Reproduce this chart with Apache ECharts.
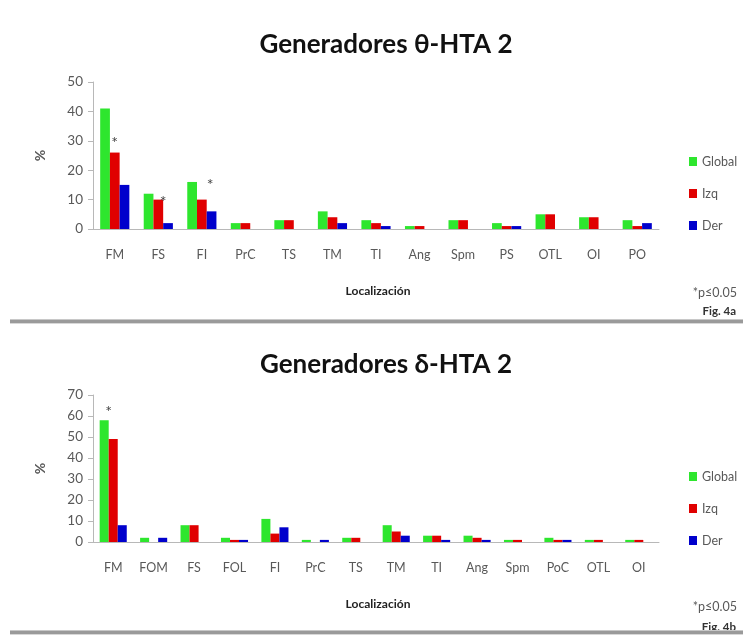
<!DOCTYPE html>
<html>
<head>
<meta charset="utf-8">
<script src="https://cdn.jsdelivr.net/npm/echarts@6/dist/echarts.min.js"></script>
<style>
html,body{margin:0;padding:0;background:#fff;}
#c{width:743px;height:636px;}
</style>
</head>
<body>
<div id="c"></div>
<script>
// ---- data: chart 4a (theta) ----
var catsTheta = ['FM','FS','FI','PrC','TS','TM','TI','Ang','Spm','PS','OTL','OI','PO'];
var globalTheta = [41,12,16,2,3,6,3,1,3,2,5,4,3];
var izqTheta    = [26,10,10,2,3,4,2,1,3,1,5,4,1];
var derTheta    = [15, 2, 6,0,0,2,1,0,0,1,0,0,2];
var sigTheta = [['FM','Izq'],['FS','Izq'],['FI','Der']];

// ---- data: chart 4b (delta) ----
var catsDelta = ['FM','FOM','FS','FOL','FI','PrC','TS','TM','TI','Ang','Spm','PoC','OTL','OI'];
var globalDelta = [58,2,8,2,11,1,2,8,3,3,1,2,1,1];
var izqDelta    = [49,0,8,1, 4,0,2,5,3,2,1,1,1,1];
var derDelta    = [ 8,2,0,1, 7,1,0,3,1,1,0,1,0,0];
var sigDelta = [['FM','Global']];

var yTicksTheta = [0,10,20,30,40,50];
var yTicksDelta = [0,10,20,30,40,50,60,70];

var seriesNames = ['Global','Izq','Der'];
var colors = {Global:'#2ee62e', Izq:'#e00000', Der:'#0000cc'};
var FONT = 'Lato';
var GRAY = '#595959';

// asterisk label placement relative to its bar (style only)
var starPos = {
  'theta|FM': ['50%',-10], 'theta|FS': ['100%',2], 'theta|FI': ['35%',-27],
  'delta|FM': ['100%',-8]
};

function buildData(key, cats, vals, name, sig){
  return vals.map(function(v,i){
    var isSig = sig.some(function(s){return s[0]===cats[i] && s[1]===name;});
    if(!isSig) return v;
    return {value:v, label:{show:true, position:starPos[key+'|'+cats[i]]||'top', formatter:'*',
      align:'center', verticalAlign:'middle', color:'#444', fontSize:16, fontFamily:FONT}};
  });
}

function mkSeries(key, cats, arrs, sig, idx){
  return seriesNames.map(function(n,k){
    return {
      name:n, type:'bar', xAxisIndex:idx, yAxisIndex:idx,
      barGap:'0%', barCategoryGap:'33%',
      itemStyle:{color:colors[n]},
      data: buildData(key, cats, arrs[k], n, sig),
      animation:false
    };
  });
}

function xAx(cats, idx){
  return {type:'category', gridIndex:idx, data:cats,
    axisLine:{lineStyle:{color:'#b8b8b8', width:1}},
    axisTick:{show:false},
    axisLabel:{color:GRAY, fontSize:12.5, fontFamily:FONT, margin:19, interval:0}};
}
function yAx(ticks, idx){
  return {type:'value', gridIndex:idx, min:ticks[0], max:ticks[ticks.length-1], interval:ticks[1]-ticks[0],
    name:'%', nameLocation:'middle', nameGap:46, nameRotate:90,
    nameTextStyle:{color:GRAY, fontSize:14, fontFamily:FONT, fontWeight:'bold'},
    axisLine:{show:true, lineStyle:{color:'#b8b8b8'}},
    axisTick:{show:true, inside:false, length:5, lineStyle:{color:'#b8b8b8'}},
    splitLine:{show:false},
    axisLabel:{color:GRAY, fontSize:13.5, fontFamily:FONT, margin:10}};
}

function legend(top){
  return {orient:'vertical', left:684, top:top, data:seriesNames,
    icon:'rect', itemWidth:8, itemHeight:9, itemGap:19,
    textStyle:{color:GRAY, fontSize:12.5, fontFamily:FONT}, itemStyle:{borderWidth:0}, selectedMode:false};
}

function txt(x,y,s,size,weight,align,color){
  return {type:'text', x:x, y:y, style:{text:s, x:0, y:0, fill:color||GRAY, font:(weight||'normal')+' '+size+'px '+FONT, align:align||'center', verticalAlign:'middle'}};
}
function sep(y){
  return [
    {type:'rect', shape:{x:10,y:y-2,width:733,height:4}, style:{fill:'#9a9a9a'}},
    {type:'rect', shape:{x:10,y:y-2,width:733,height:1}, style:{fill:'#c8c8c8'}},
    {type:'rect', shape:{x:10,y:y+2,width:733,height:1}, style:{fill:'#d8d8d8'}}
  ];
}

var chart = echarts.init(document.getElementById('c'), null, {renderer:'canvas'});
chart.setOption({
  animation:false,
  backgroundColor:'#fff',
  grid:[
    {left:93, right:84, top:82, height:147, containLabel:false},
    {left:93, right:84, top:395, height:147, containLabel:false}
  ],
  xAxis:[xAx(catsTheta,0), xAx(catsDelta,1)],
  yAxis:[yAx(yTicksTheta,0), yAx(yTicksDelta,1)],
  legend:[legend(150), legend(465)],
  series: mkSeries('theta', catsTheta, [globalTheta, izqTheta, derTheta], sigTheta, 0)
    .concat(mkSeries('delta', catsDelta, [globalDelta, izqDelta, derDelta], sigDelta, 1)),
  graphic: [
    txt(386,45,'Generadores θ-HTA 2',26,'bold','center','#111'),
    txt(378,291,'Localización',12,'bold','center','#222'),
    txt(737,293,'*p≤0.05',12.5,'normal','right',GRAY),
    txt(736,311,'Fig. 4a',11.5,'bold','right','#333'),
    txt(386,365,'Generadores δ-HTA 2',26,'bold','center','#111'),
    txt(378,604,'Localización',12,'bold','center','#222'),
    txt(737,607,'*p≤0.05',12.5,'normal','right',GRAY),
    txt(736,627,'Fig. 4b',11.5,'bold','right','#333')
  ].concat(sep(321)).concat(sep(632))
});
</script>
</body>
</html>
